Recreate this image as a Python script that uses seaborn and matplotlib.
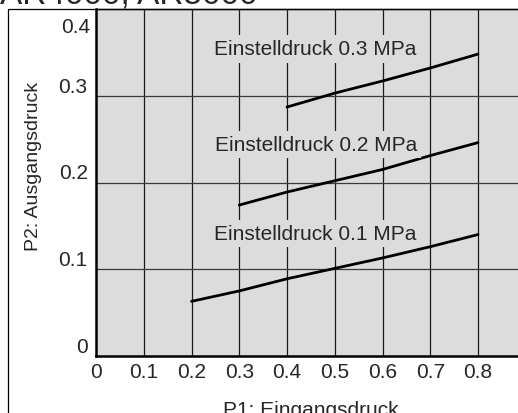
import matplotlib
matplotlib.use("Agg")
import matplotlib.pyplot as plt
import seaborn as sns
import pandas as pd
from matplotlib.patches import Rectangle

# values
p1_01 = [0.2, 0.3, 0.4, 0.5, 0.6, 0.7, 0.8]
p2_01 = [0.063, 0.075, 0.089, 0.101, 0.113, 0.126, 0.140]
p1_02 = [0.3, 0.4, 0.5, 0.6, 0.7, 0.8]
p2_02 = [0.174, 0.189, 0.202, 0.215, 0.231, 0.246]
p1_03 = [0.4, 0.5, 0.6, 0.7, 0.8]
p2_03 = [0.287, 0.303, 0.317, 0.332, 0.348]
curve_names = ["Einstelldruck 0.1 MPa", "Einstelldruck 0.2 MPa", "Einstelldruck 0.3 MPa"]
x_ticks = [0, 0.1, 0.2, 0.3, 0.4, 0.5, 0.6, 0.7, 0.8]
x_tick_labels = ["0", "0.1", "0.2", "0.3", "0.4", "0.5", "0.6", "0.7", "0.8"]
y_ticks = [0, 0.1, 0.2, 0.3]
y_tick_labels = ["0", "0.1", "0.2", "0.3"]

frames = []
for name, xs, ys in zip(curve_names, [p1_01, p1_02, p1_03], [p2_01, p2_02, p2_03]):
    frames.append(pd.DataFrame({"P1": xs, "P2": ys, "curve": name}))
df = pd.concat(frames, ignore_index=True)

sns.set_style("white")
plt.rcParams["font.family"] = ["Liberation Sans", "DejaVu Sans"]

bg = "#dcdcdc"
fig = plt.figure(figsize=(5.18, 4.14), dpi=100)
ax = fig.add_axes([96 / 518, 57 / 414, (525.75 - 96) / 518, 347 / 414])
ax.set_facecolor(bg)

# grid
for xv in x_ticks[1:]:
    ax.axvline(xv, color="#1a1a1a", lw=0.9, zorder=1)
for yv in y_ticks[1:]:
    ax.axhline(yv, color="#3a3a3a", lw=0.9, zorder=1)

sns.lineplot(data=df, x="P1", y="P2", hue="curve", units="curve", estimator=None,
             palette=["black"] * 3, lw=2.0, legend=False, ax=ax, zorder=3)

# curve labels with grey box hiding the grid
label_y = [0.141, 0.244, 0.354]
for name, yl in zip(curve_names, label_y):
    ax.text(0.46, yl, name, ha="center", va="center", fontsize=15, zorder=4,
            bbox=dict(facecolor=bg, edgecolor="none", pad=3))

ax.set_xlim(0, 0.9)
ax.set_ylim(0, 0.4)
ax.set_xticks(x_ticks)
ax.set_xticklabels(x_tick_labels, fontsize=15)
ax.set_yticks(y_ticks)
ax.set_yticklabels(y_tick_labels, fontsize=15, va="bottom")
ax.tick_params(axis="both", length=0)
ax.tick_params(axis="x", pad=4)
ax.tick_params(axis="y", pad=6)
ax.annotate("0.4", xy=(0, 0.4), xycoords=("axes fraction", "data"),
            xytext=(-6, -8), textcoords="offset pixels", ha="right", va="top", fontsize=15)

ax.set_xlabel("P1: Eingangsdruck", fontsize=15, labelpad=14)
ax.set_ylabel("P2: Ausgangsdruck", fontsize=14)
ax.yaxis.set_label_coords(-0.126, 0.55)

for side in ["left", "bottom"]:
    ax.spines[side].set_linewidth(1.8)
    ax.spines[side].set_color("black")
ax.spines["top"].set_linewidth(1.0)
ax.spines["top"].set_color("black")
ax.spines["right"].set_visible(False)

# outer frame of the figure box
fig.patches.append(Rectangle((8 / 518, -0.1), 1.2, (414 - 10) / 414 + 0.1,
                             transform=fig.transFigure, fill=False, edgecolor="black",
                             lw=0.9, zorder=0))

# title, cut off at the top edge
fig.text(0.0, (414 - 3) / 414, "AR4000, AR5000", fontsize=24, va="baseline", ha="left")

fig.savefig("out.png", dpi=100)
